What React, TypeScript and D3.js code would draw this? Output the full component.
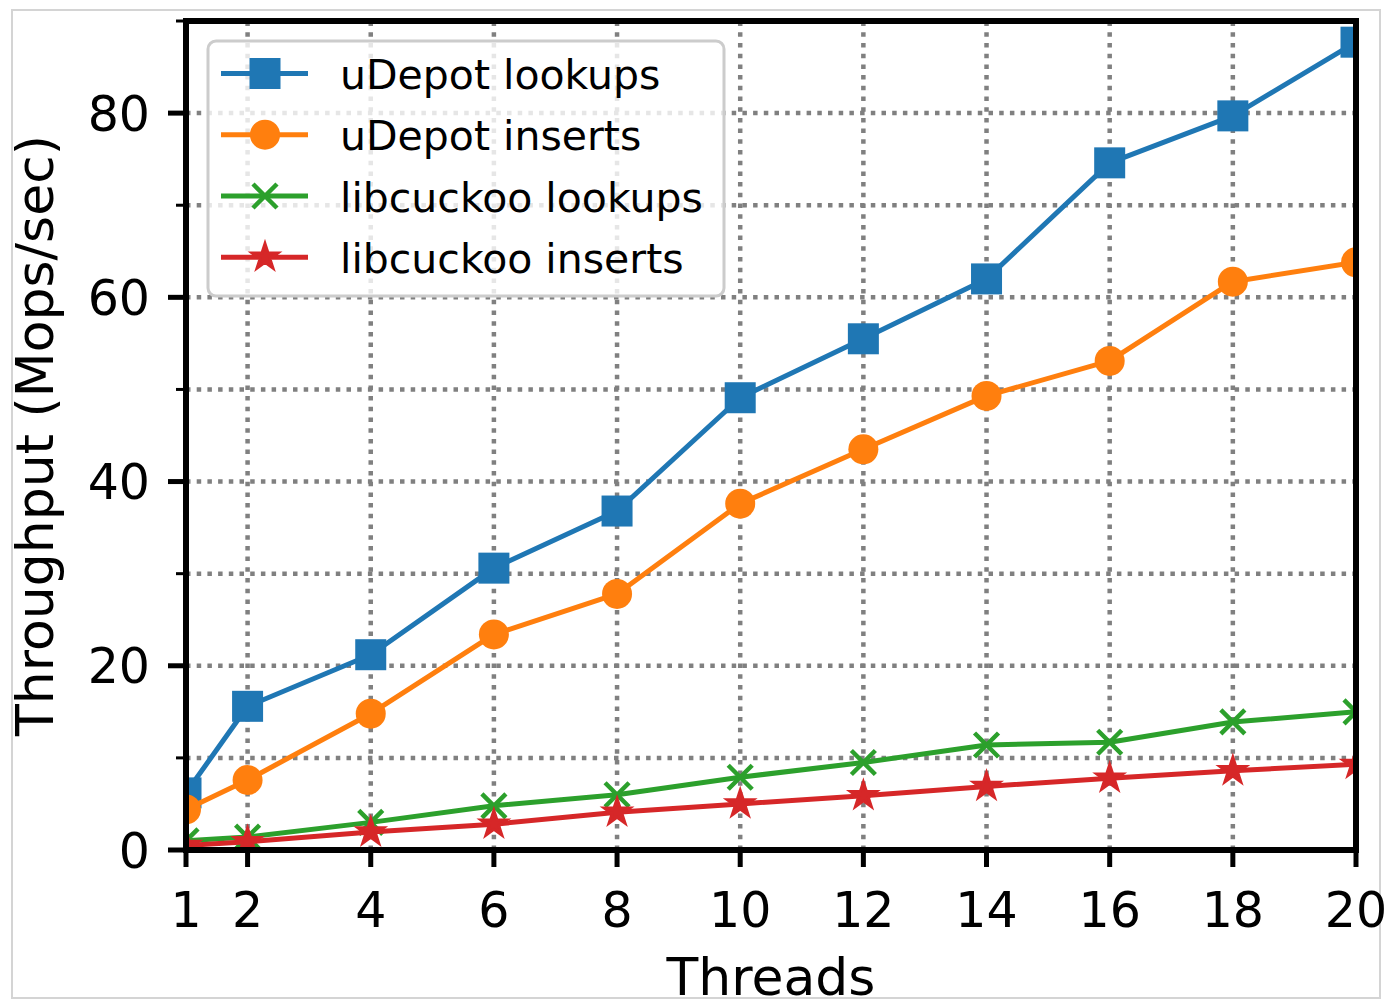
import React from "react";
import * as d3 from "d3";

// Throughput vs. thread count for uDepot and libcuckoo
const threads = [1, 2, 4, 6, 8, 10, 12, 14, 16, 18, 20];
const udepotLookups = [6.2, 15.6, 21.2, 30.6, 36.8, 49.1, 55.5, 62.0, 74.6, 79.7, 87.7];
const udepotInserts = [4.4, 7.6, 14.8, 23.4, 27.8, 37.6, 43.5, 49.3, 53.1, 61.7, 63.8];
const libcuckooLookups = [1.0, 1.4, 3.0, 4.8, 6.0, 7.9, 9.5, 11.4, 11.7, 13.9, 15.0];
const libcuckooInserts = [0.5, 0.9, 1.95, 2.8, 4.1, 5.0, 5.9, 6.9, 7.8, 8.6, 9.3];

const xTicks = [1, 2, 4, 6, 8, 10, 12, 14, 16, 18, 20];
const yMajorTicks = [0, 20, 40, 60, 80];
const yMinorTicks = [10, 30, 50, 70, 90];
const xGrid = [2, 4, 6, 8, 10, 12, 14, 16, 18];
const yGrid = [10, 20, 30, 40, 50, 60, 70, 80];

type MarkerKind = "square" | "circle" | "x" | "star";
const seriesNames = ["uDepot lookups", "uDepot inserts", "libcuckoo lookups", "libcuckoo inserts"];
const seriesValues = [udepotLookups, udepotInserts, libcuckooLookups, libcuckooInserts];
const seriesColors = ["#1f77b4", "#ff7f0e", "#2ca02c", "#d62728"];
const seriesMarkers: MarkerKind[] = ["square", "circle", "x", "star"];

const W = 1390;
const H = 1001;
const left = 186;
const right = 1356;
const top = 21;
const bottom = 850;
const FONT = "'DejaVu Sans', sans-serif";

const x = d3.scaleLinear().domain([1, 20]).range([left, right]);
const y = d3.scaleLinear().domain([0, 90]).range([bottom, top]);

const starPath = (() => {
  const R = 13.5;
  const r = R * 0.382;
  const pts: [number, number][] = [];
  for (let i = 0; i < 10; i++) {
    const a = -Math.PI / 2 + (i * Math.PI) / 5;
    const rad = i % 2 === 0 ? R : r;
    pts.push([Math.cos(a) * rad, Math.sin(a) * rad]);
  }
  return "M" + pts.map((p) => p.join(",")).join("L") + "Z";
})();

function Marker({ kind, cx, cy, color }: { kind: MarkerKind; cx: number; cy: number; color: string }) {
  if (kind === "square") {
    const s = 31;
    return <rect x={cx - s / 2} y={cy - s / 2} width={s} height={s} fill={color} />;
  }
  if (kind === "circle") {
    return <circle cx={cx} cy={cy} r={15} fill={color} />;
  }
  if (kind === "x") {
    const h = 12;
    return (
      <path
        d={`M${cx - h},${cy - h}L${cx + h},${cy + h}M${cx - h},${cy + h}L${cx + h},${cy - h}`}
        stroke={color}
        strokeWidth={4.5}
        fill="none"
      />
    );
  }
  return (
    <path
      d={starPath}
      transform={`translate(${cx},${cy})`}
      fill={color}
      stroke={color}
      strokeWidth={3}
      strokeLinejoin="miter"
    />
  );
}

export default function App() {
  const line = d3
    .line<number>()
    .x((_, i) => x(threads[i]))
    .y((v) => y(v));

  const legendRows = [73.5, 134.7, 196, 257.2];

  return (
    <svg
      width={W}
      height={H}
      viewBox={`0 0 ${W} ${H}`}
      style={{ position: "absolute", left: 0, top: 0, background: "#fff" }}
    >
      <defs>
        <clipPath id="plotClip">
          <rect x={left} y={top} width={right - left} height={bottom - top} />
        </clipPath>
      </defs>

      {/* figure frame */}
      <rect x={12} y={10} width={1368} height={988} fill="#fff" stroke="#d4d4d4" strokeWidth={2} />

      {/* grid */}
      <g stroke="#808080" strokeWidth={4.5} strokeDasharray="4.5,6.2" fill="none">
        {xGrid.map((t) => (
          <line key={"gx" + t} x1={x(t)} x2={x(t)} y1={bottom} y2={top} />
        ))}
        {yGrid.map((t) => (
          <line key={"gy" + t} x1={left} x2={right} y1={y(t)} y2={y(t)} />
        ))}
      </g>

      {/* series */}
      <g clipPath="url(#plotClip)">
        {seriesValues.map((vals, si) => (
          <g key={seriesNames[si]}>
            <path d={line(vals) || ""} fill="none" stroke={seriesColors[si]} strokeWidth={5} strokeLinejoin="round" />
            {vals.map((v, i) => (
              <Marker key={i} kind={seriesMarkers[si]} cx={x(threads[i])} cy={y(v)} color={seriesColors[si]} />
            ))}
          </g>
        ))}
      </g>

      {/* spines */}
      <rect x={left} y={top} width={right - left} height={bottom - top} fill="none" stroke="#000" strokeWidth={6} />

      {/* x ticks */}
      <g>
        {xTicks.map((t) => (
          <g key={"xt" + t}>
            <line x1={x(t)} x2={x(t)} y1={bottom} y2={bottom + 17} stroke="#000" strokeWidth={5} />
            <text x={x(t)} y={927} textAnchor="middle" fontFamily={FONT} fontSize={49} fill="#000">
              {t}
            </text>
          </g>
        ))}
      </g>

      {/* y ticks */}
      <g>
        {yMajorTicks.map((t) => (
          <g key={"yt" + t}>
            <line x1={left - 18} x2={left} y1={y(t)} y2={y(t)} stroke="#000" strokeWidth={5} />
            <text x={150} y={y(t) + 17.5} textAnchor="end" fontFamily={FONT} fontSize={49} fill="#000">
              {t}
            </text>
          </g>
        ))}
        {yMinorTicks.map((t) => (
          <line key={"ym" + t} x1={left - 10} x2={left} y1={y(t)} y2={y(t)} stroke="#000" strokeWidth={3} />
        ))}
      </g>

      {/* axis labels */}
      <text x={771} y={995} textAnchor="middle" fontFamily={FONT} fontSize={52} fill="#000">
        Threads
      </text>
      <text
        transform={`translate(53,${(top + bottom) / 2}) rotate(-90)`}
        textAnchor="middle"
        fontFamily={FONT}
        fontSize={52}
        fill="#000"
      >
        Throughput (Mops/sec)
      </text>

      {/* legend */}
      <g>
        <rect
          x={208}
          y={41}
          width={516}
          height={255}
          rx={8}
          ry={8}
          fill="#fff"
          fillOpacity={0.8}
          stroke="#cccccc"
          strokeWidth={3}
        />
        {seriesNames.map((name, i) => (
          <g key={"lg" + name}>
            <line x1={221} x2={308} y1={legendRows[i]} y2={legendRows[i]} stroke={seriesColors[i]} strokeWidth={5} />
            <Marker kind={seriesMarkers[i]} cx={265} cy={legendRows[i]} color={seriesColors[i]} />
            <text x={340} y={legendRows[i] + 15.5} fontFamily={FONT} fontSize={41} fill="#000">
              {name}
            </text>
          </g>
        ))}
      </g>
    </svg>
  );
}
